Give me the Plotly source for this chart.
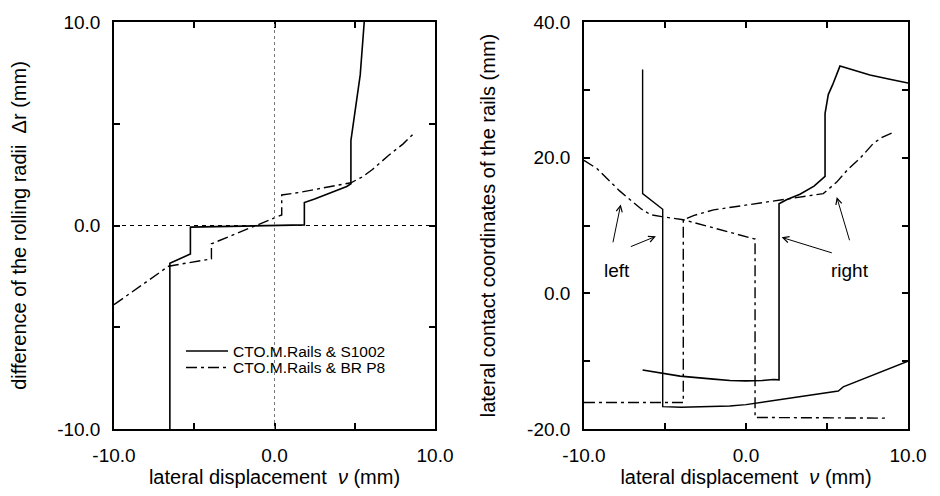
import plotly.graph_objects as go

# ---------------- data ----------------
# Left panel: difference of rolling radii vs lateral displacement
s1002_dr_x = [-6.52, -6.52, -5.24, -5.24, 1.86, 1.86, 2.5, 3.0, 3.5, 4.0, 4.5, 4.76, 4.76, 5.34, 5.59]
s1002_dr_y = [-10.0, -1.85, -1.4, -0.08, 0.03, 1.13, 1.3, 1.45, 1.6, 1.75, 1.92, 2.05, 4.17, 7.4, 10.0]

bp8_dr_x = [-10.0, -8.5, -6.6, -3.93, -3.93, 0.45, 0.45, 1.5, 3.0, 4.76, 5.5, 6.1, 7.1, 8.0, 8.6]
bp8_dr_y = [-3.89, -3.05, -2.0, -1.64, -0.9, 0.52, 1.5, 1.62, 1.85, 2.1, 2.4, 2.75, 3.44, 4.0, 4.46]

# Right panel: lateral contact coordinates on the rails
s1002_left_x = [-6.38, -6.38, -5.14, -5.14, -4.0, -2.0, -1.0, 0.0, 0.56, 1.0, 2.0, 3.0, 4.0, 5.0, 5.7, 6.0, 8.0, 10.0]
s1002_left_y = [33.0, 14.7, 12.4, -16.7, -16.8, -16.7, -16.6, -16.4, -16.2, -16.1, -15.75, -15.4, -15.0, -14.7, -14.4, -13.8, -11.9, -10.0]

s1002_right_x = [-6.38, -4.07, -2.0, -0.99, 0.0, 1.0, 1.69, 2.04, 2.04, 2.5, 3.33, 4.2, 4.88, 4.88, 5.08, 5.35, 5.8, 6.7, 7.65, 8.8, 10.0]
s1002_right_y = [-11.3, -12.2, -12.65, -12.85, -12.9, -12.85, -12.7, -12.75, 13.2, 13.8, 14.6, 15.8, 17.25, 26.5, 29.3, 30.76, 33.5, 32.9, 32.2, 31.6, 31.0]

bp8_left_x = [-10.0, -9.2, -7.8, -6.5, -5.9, -5.2, -3.87, -2.43, 0.56, 0.56, 8.68]
bp8_left_y = [19.6, 18.4, 15.1, 12.5, 11.6, 11.3, 10.85, 9.9, 8.0, -18.3, -18.4]

bp8_right_x = [-10.0, -3.87, -3.87, -3.2, -2.0, 0.0, 1.9, 3.5, 4.77, 5.6, 6.3, 7.04, 7.86, 8.4, 9.03]
bp8_right_y = [-16.1, -16.1, 10.85, 11.5, 12.3, 13.0, 13.6, 14.2, 14.7, 16.4, 18.3, 19.9, 22.1, 23.0, 23.65]

legend_names = ["CTO.M.Rails & S1002", "CTO.M.Rails & BR P8"]

# tick labels
x_tickvals = [-10, 0, 10]
x_ticktext = ["-10.0", "0.0", "10.0"]
y1_tickvals = [-10, 0, 10]
y1_ticktext = ["-10.0", "0.0", "10.0"]
y2_tickvals = [-20, 0, 20, 40]
y2_ticktext = ["-20.0", "0.0", "20.0", "40.0"]

# annotation arrows (head x, head y, tail x, tail y) in data units of right panel
arrow_heads_x = [-7.73, -5.56, 2.2, 5.6]
arrow_heads_y = [13.1, 8.4, 8.25, 14.2]
arrow_tails_x = [-8.23, -7.2, 5.39, 6.42]
arrow_tails_y = [7.3, 6.8, 5.9, 7.6]
label_texts = ["left", "right"]
label_x = [-7.98, 6.42]
label_y = [3.3, 3.3]

FONT = "Liberation Sans, Arial, Helvetica, sans-serif"
DASHDOT = "11px,4px,3px,4px"

fig = go.Figure()

fig.add_trace(go.Scatter(x=s1002_dr_x, y=s1002_dr_y, mode="lines", name=legend_names[0],
                         line=dict(color="black", width=1.6), xaxis="x", yaxis="y", legend="legend"))
fig.add_trace(go.Scatter(x=bp8_dr_x, y=bp8_dr_y, mode="lines", name=legend_names[1],
                         line=dict(color="black", width=1.4, dash=DASHDOT), xaxis="x", yaxis="y",
                         legend="legend2"))

fig.add_trace(go.Scatter(x=s1002_left_x, y=s1002_left_y, mode="lines", showlegend=False,
                         line=dict(color="black", width=1.4), xaxis="x2", yaxis="y2"))
fig.add_trace(go.Scatter(x=s1002_right_x, y=s1002_right_y, mode="lines", showlegend=False,
                         line=dict(color="black", width=1.6), xaxis="x2", yaxis="y2"))
fig.add_trace(go.Scatter(x=bp8_left_x, y=bp8_left_y, mode="lines", showlegend=False,
                         line=dict(color="black", width=1.4, dash=DASHDOT), xaxis="x2", yaxis="y2"))
fig.add_trace(go.Scatter(x=bp8_right_x, y=bp8_right_y, mode="lines", showlegend=False,
                         line=dict(color="black", width=1.4, dash=DASHDOT), xaxis="x2", yaxis="y2"))

axis_common = dict(
    showgrid=False, zeroline=False, showline=True, linecolor="black", linewidth=1.5,
    mirror="allticks", ticks="inside", ticklen=6, tickwidth=1.5, tickcolor="black",
    tickfont=dict(family=FONT, size=19, color="black"),
    ticklabelstandoff=8, tickmode="array",
)
minor5 = dict(dtick=5, tick0=0, ticks="inside", ticklen=6, tickwidth=1.5, tickcolor="black")
minor10 = dict(dtick=10, tick0=0, ticks="inside", ticklen=6, tickwidth=1.5, tickcolor="black")

xtitle = dict(text="lateral displacement  <i>ν</i> (mm)", font=dict(family=FONT, size=20, color="black"), standoff=4)

legend_common = dict(xanchor="left", yanchor="top", bgcolor="rgba(0,0,0,0)",
                     font=dict(family=FONT, size=15.5, color="black"), itemwidth=42,
                     xref="paper", yref="paper")

fig.update_layout(
    width=940, height=496,
    margin=dict(l=114, r=32, t=15, b=59),
    paper_bgcolor="white", plot_bgcolor="white",
    font=dict(family=FONT, color="black"),
    xaxis=dict(axis_common, domain=[0, 0.4043], range=[-10, 10],
               tickvals=x_tickvals, ticktext=x_ticktext, minor=minor5,
               title=xtitle, anchor="y"),
    yaxis=dict(axis_common, range=[-10, 10],
               tickvals=y1_tickvals, ticktext=y1_ticktext, minor=minor5,
               title=dict(text="difference of the rolling radii  Δr (mm)",
                          font=dict(family=FONT, size=20, color="black"), standoff=25),
               anchor="x"),
    xaxis2=dict(axis_common, domain=[0.5919, 1.0], range=[-10, 10],
                tickvals=x_tickvals, ticktext=x_ticktext, minor=minor5,
                title=xtitle, anchor="y2"),
    yaxis2=dict(axis_common, range=[-20, 40],
                tickvals=y2_tickvals, ticktext=y2_ticktext, minor=minor10,
                title=dict(text="lateral contact coordinates of the rails (mm)",
                           font=dict(family=FONT, size=20, color="black"), standoff=26),
                anchor="x2"),
    legend=dict(legend_common, x=0.0844, y=0.2322),
    legend2=dict(legend_common, x=0.0844, y=0.192),
    showlegend=True,
)

# reference lines in left panel
fig.add_shape(type="line", xref="x", yref="y domain", x0=0, x1=0, y0=0, y1=1,
              line=dict(color="#777777", width=1, dash="dot"))
fig.add_shape(type="line", xref="x domain", yref="y", x0=0, x1=1, y0=0, y1=0,
              line=dict(color="black", width=1, dash="4px,4px"))

for hx, hy, tx, ty in zip(arrow_heads_x, arrow_heads_y, arrow_tails_x, arrow_tails_y):
    fig.add_annotation(x=hx, y=hy, ax=tx, ay=ty, xref="x2", yref="y2", axref="x2", ayref="y2",
                       showarrow=True, arrowhead=5, arrowsize=1.2, arrowwidth=1, arrowcolor="black",
                       text="")
for t, lx, ly in zip(label_texts, label_x, label_y):
    fig.add_annotation(x=lx, y=ly, xref="x2", yref="y2", text=t, showarrow=False,
                       font=dict(family=FONT, size=19, color="black"))

fig.write_html("out.html")
